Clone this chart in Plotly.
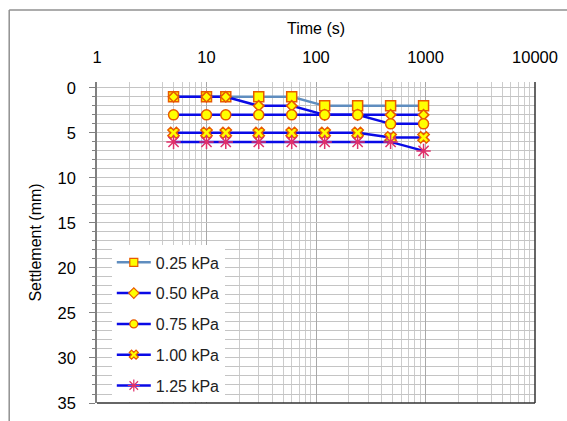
import plotly.graph_objects as go

time_s = [5, 10, 15, 30, 60, 120, 240, 480, 960]
s_025 = [1, 1, 1, 1, 1, 2, 2, 2, 2]
s_050 = [1, 1, 1, 2, 2, 3, 3, 3, 3]
s_075 = [3, 3, 3, 3, 3, 3, 3, 4, 4]
s_100 = [5, 5, 5, 5, 5, 5, 5, 5.5, 5.5]
s_125 = [6, 6, 6, 6, 6, 6, 6, 6, 7]

series_names = ["0.25 kPa", "0.50 kPa", "0.75 kPa", "1.00 kPa", "1.25 kPa"]
x_ticks = [1, 10, 100, 1000, 10000]
x_labels = ["1", "10", "100", "1000", "10000"]
y_ticks = [0, 5, 10, 15, 20, 25, 30, 35]

W, H = 567, 421
ML, MR, MT, MB = 97, 26, 82, 9
PW, PH = W - ML - MR, H - MT - MB

YEL = "#FFFF00"
ORG = "#E85A00"
styles = [
    dict(line="#5F8DBF", symbol="square", size=10, fill=YEL, edge=ORG),
    dict(line="#0A0AE6", symbol="diamond", size=8, fill=YEL, edge=ORG),
    dict(line="#0A0AE6", symbol="circle", size=10, fill=YEL, edge=ORG),
    dict(line="#0A0AE6", symbol="x", size=10, fill=YEL, edge=ORG),
    dict(line="#0A0AE6", symbol="asterisk-open", size=12, fill="#E0306A", edge="#E0306A"),
]
legend_sizes = [8, 8, 8, 8, 10]

fig = go.Figure()
for name, ys, st in zip(series_names, [s_025, s_050, s_075, s_100, s_125], styles):
    fig.add_trace(go.Scatter(
        x=time_s, y=ys, name=name, mode="lines+markers",
        showlegend=False,
        line=dict(color=st["line"], width=2.5),
        marker=dict(symbol=st["symbol"], size=st["size"], color=st["fill"],
                    line=dict(color=st["edge"], width=1.5)),
    ))
# legend entries (smaller sample markers, as in the reference)
for name, st, ls in zip(series_names, styles, legend_sizes):
    fig.add_trace(go.Scatter(
        x=[None], y=[None], name=name, mode="lines+markers",
        legendgroup=name, showlegend=True,
        line=dict(color=st["line"], width=2.5),
        marker=dict(symbol=st["symbol"], size=ls, color=st["fill"],
                    line=dict(color=st["edge"], width=1.2)),
    ))

minor_x = [m * 10 ** d for d in range(0, 4) for m in range(2, 10)]

fig.update_layout(
    width=W, height=H,
    margin=dict(l=ML, r=MR, t=MT, b=MB, pad=0),
    paper_bgcolor="white", plot_bgcolor="white",
    font=dict(family="Arial, Liberation Sans, sans-serif", size=16, color="#000000"),
    showlegend=True,
    legend=dict(
        x=(112 - ML) / PW, y=1 - (250 - MT) / PH, xanchor="left", yanchor="top",
        bgcolor="white", borderwidth=0, font=dict(size=16, color="#222"),
        tracegroupgap=7, itemwidth=34,
    ),
    xaxis=dict(
        type="log", range=[0, 4], side="top",
        tickvals=x_ticks, ticktext=x_labels,
        showgrid=True, gridcolor="#A8A8A8", gridwidth=1,
        minor=dict(tickvals=minor_x, showgrid=True, gridcolor="#CCCCCC", gridwidth=1, ticks=""),
        ticks="", ticklabelstandoff=15, zeroline=False, showline=False,
        title=dict(text="Time (s)", standoff=9, font=dict(size=16)),
        tickfont=dict(size=16.5),
    ),
    yaxis=dict(
        range=[35, -0.65], tickvals=y_ticks,
        showgrid=True, gridcolor="#C4C4C4", gridwidth=1,
        minor=dict(dtick=1, showgrid=True, gridcolor="#C4C4C4", gridwidth=1,
                   ticks="outside", ticklen=3, tickcolor="#808080"),
        ticks="outside", ticklen=6, tickcolor="#808080",
        showline=True, linecolor="#808080", linewidth=1.5,
        zeroline=False, ticklabelstandoff=10,
        title=dict(text="Settlement (mm)", standoff=12, font=dict(size=16)),
        tickfont=dict(size=16.5),
    ),
)

# plot frame (right and bottom)
fig.add_shape(type="line", xref="paper", yref="paper", x0=1, x1=1, y0=0, y1=1,
              line=dict(color="#333333", width=1.5))
fig.add_shape(type="line", xref="paper", yref="paper", x0=0, x1=1, y0=0, y1=0,
              line=dict(color="#333333", width=1.5))
# outer chart border
bx = (8 - ML) / PW
by = 1 + (MT - 8) / PH
fig.add_shape(type="line", xref="paper", yref="paper", x0=bx, x1=bx, y0=-MB / PH - 0.1, y1=by,
              line=dict(color="#909090", width=1.5))
fig.add_shape(type="line", xref="paper", yref="paper", x0=bx, x1=1 + MR / PW + 0.1, y0=by, y1=by,
              line=dict(color="#909090", width=1.5))

fig.write_html("out.html")
